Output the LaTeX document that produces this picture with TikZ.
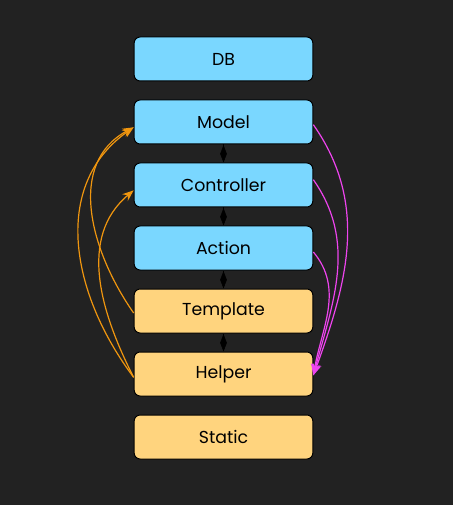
\documentclass[tikz,border=0pt]{standalone}
\usepackage{fontspec}
\setmainfont{Poppins}
\usetikzlibrary{positioning, arrows.meta}
\definecolor{bgdark}{HTML}{222222}
\definecolor{boxblue}{HTML}{7AD7FF}
\definecolor{boxorange}{HTML}{FFD47E}
\definecolor{uselink}{HTML}{F0960F}
\definecolor{helplink}{HTML}{EE44EE}

\begin{document}
\begin{tikzpicture}[x=0.75pt, y=0.75pt,
    layer/.style={draw=black, line width=0.75pt, rounded corners=4.5pt, minimum width=134pt, minimum height=33pt, inner sep=0pt, font=\fontsize{13}{15}\selectfont},
    dlink/.style={draw=black, -{Diamond[length=13pt, width=5pt]}},
    uses/.style={draw=uselink, line width=0.9pt, -{Stealth[length=8.5pt, width=6.5pt]}},
    helps/.style={draw=helplink, line width=0.9pt, -{Stealth[length=8.5pt, width=6.5pt]}}]
    \fill[bgdark] (0,0) rectangle (453,-505);
    \foreach \n/\t/\y/\c in {db/DB/59/boxblue, model/Model/122/boxblue, controller/Controller/185/boxblue, action/Action/248/boxblue, template/Template/311/boxorange, helper/Helper/374/boxorange, static/Static/437/boxorange} {
        \node[layer, fill=\c] (\n) at (223.5,-\y) {\t};
    }
    \foreach \a/\b in {model/controller, controller/action, action/template, template/helper} {
        \draw[dlink] (\a) -- (\b);
    }
    % left side: orange
    \draw[uses] ([yshift=-1.5pt]template.west) to[out=125, in=208, looseness=1.05] ([yshift=-4pt]model.west);
    \draw[uses] ([yshift=-2.5pt]helper.west) to[out=127, in=215, looseness=1.05] ([yshift=-4pt]model.west);
    \draw[uses] ([yshift=-2.5pt]helper.west) to[out=117, in=220] ([yshift=-4pt]controller.west);
    % right side: magenta
    \draw[helps] ([yshift=-2pt]model.east) to[out=-55, in=70] ([yshift=-1pt]helper.east);
    \draw[helps] ([yshift=4pt]controller.east) to[out=-55, in=75] ([yshift=-1pt]helper.east);
    \draw[helps] ([yshift=-3pt]action.east) to[out=-50, in=80] ([yshift=-1pt]helper.east);
\end{tikzpicture}
\end{document}
